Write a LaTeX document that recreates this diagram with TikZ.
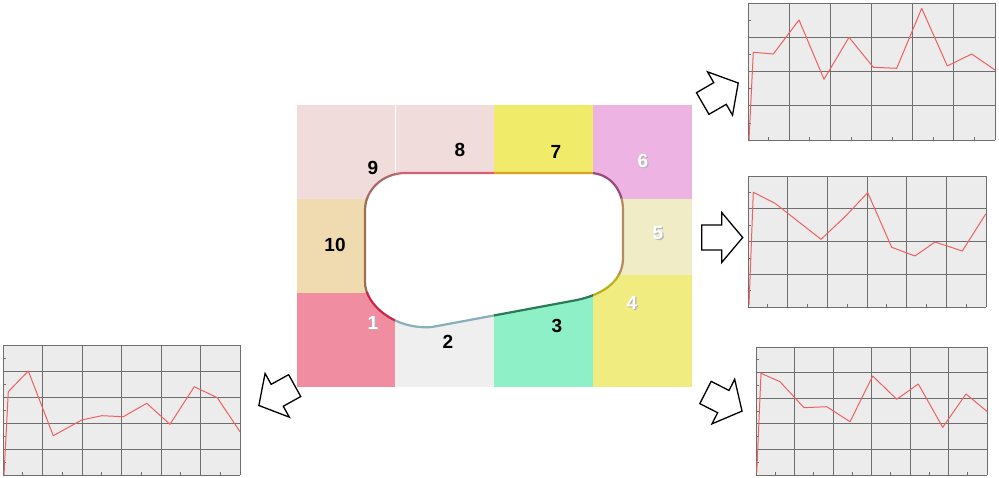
\documentclass[tikz,border=0pt]{standalone}
\usepackage{fontspec}
\setmainfont{Liberation Sans}
\definecolor{cA}{HTML}{F1DCDC}
\definecolor{cSeven}{HTML}{F0EC6A}
\definecolor{cSix}{HTML}{EDB3E3}
\definecolor{cTen}{HTML}{F0DAB0}
\definecolor{cFive}{HTML}{F0ECC6}
\definecolor{cFour}{HTML}{F0EC80}
\definecolor{cOne}{HTML}{F08DA0}
\definecolor{cTwo}{HTML}{EFEFEF}
\definecolor{cThree}{HTML}{8EF0C6}
\definecolor{chartbg}{HTML}{ECECEC}
\definecolor{gridc}{HTML}{6E6E6E}
\definecolor{redc}{HTML}{F06060}
\definecolor{rNine}{HTML}{A86A6A}
\definecolor{rEight}{HTML}{D46070}
\definecolor{rSeven}{HTML}{E0A020}
\definecolor{rSix}{HTML}{9A4A7A}
\definecolor{rTen}{HTML}{9A7050}
\definecolor{rFive}{HTML}{B88A60}
\definecolor{rFour}{HTML}{B8B020}
\definecolor{rOne}{HTML}{C82848}
\definecolor{rTwo}{HTML}{88B0BA}
\definecolor{rThree}{HTML}{2A7A55}
\tikzset{
  gridline/.style={draw=gridc,line width=0.9pt},
  ticks/.style={draw=gridc,line width=0.7pt},
  redline/.style={draw=redc,line width=1pt,line join=round},
  blockarrow/.style={draw=black,fill=white,line width=1.3pt,line join=miter},
  darklabel/.style={font=\bfseries\fontsize{19}{20}\selectfont,text=black},
  whitelabel/.style={font=\bfseries\fontsize{19}{20}\selectfont,text=white},
  shadowlabel/.style={font=\bfseries\fontsize{19}{20}\selectfont,text=black!30},
  rim/.style={line width=2.2pt}
}
\newcommand\mychart[7]{%
  \fill[chartbg] (#1,#2) rectangle (#3,#4);
  \foreach \i in {0,...,#5}{\draw[gridline] ({#1+(#3-#1)*\i/#5},#2) -- ({#1+(#3-#1)*\i/#5},#4);}
  \foreach \i in {0,...,#6}{\draw[gridline] (#1,{#2+(#4-#2)*\i/#6}) -- (#3,{#2+(#4-#2)*\i/#6});}
  \foreach \i in {1,...,#5}{\draw[ticks] ({#1+(#3-#1)*(\i-0.5)/#5},#4) -- ({#1+(#3-#1)*(\i-0.5)/#5},#4-3);}
  \foreach \i in {1,...,#6}{\draw[ticks] (#1,{#2+(#4-#2)*(\i-0.5)/#6}) -- (#1+3,{#2+(#4-#2)*(\i-0.5)/#6});}
  \draw[redline] plot coordinates {#7};
}
\newcommand\holepath{(365,210) -- (365,282) .. controls (365,305) and (395,330) .. (432,327) -- (577,300) .. controls (605,294) and (623,280) .. (623,258) -- (623,210) .. controls (623,188) and (608,173) .. (590,173) -- (405,173) .. controls (383,173) and (365,190) .. (365,210) -- cycle}
\newcommand\rimcell[5]{\begin{scope}\clip (#1,#2) rectangle (#3,#4); \draw[rim,draw=#5] \holepath; \end{scope}}
\begin{document}
\begin{tikzpicture}[x=1pt,y=-1pt]
\useasboundingbox (0,0) rectangle (999,478);
\fill[white] (0,0) rectangle (999,478);
% cells
\fill[cA] (297,105) rectangle (395,199);
\fill[cA] (395,105) rectangle (494,199);
\draw[white,line width=0.8pt] (395,105) -- (395,199);
\fill[cSeven] (494,105) rectangle (593,199);
\fill[cSix] (593,105) rectangle (692,199);
\fill[cTen] (297,199) rectangle (395,293);
\fill[cFive] (593,199) rectangle (692,275);
\fill[cFour] (593,275) rectangle (692,387);
\fill[cOne] (297,293) rectangle (395,387);
\fill[cTwo] (395,293) rectangle (494,387);
\fill[cThree] (494,293) rectangle (593,387);
% hole
\fill[white] \holepath;
\rimcell{297}{105}{395}{199}{rNine}
\rimcell{395}{105}{494}{199}{rEight}
\rimcell{494}{105}{593}{199}{rSeven}
\rimcell{593}{105}{692}{199}{rSix}
\rimcell{297}{199}{395}{293}{rTen}
\rimcell{593}{199}{692}{275}{rFive}
\rimcell{593}{275}{692}{387}{rFour}
\rimcell{297}{293}{395}{387}{rOne}
\rimcell{395}{293}{494}{387}{rTwo}
\rimcell{494}{293}{593}{387}{rThree}
% labels
\node[darklabel] (l9) at (373,168) {9};
\node[darklabel] (l8) at (460,150) {8};
\node[darklabel] (l7) at (556,152) {7};
\node[shadowlabel] at (644.2,162.2) {6};
\node[whitelabel] (l6) at (643,161) {6};
\node[darklabel] (l10) at (335,245) {10};
\node[shadowlabel] at (659.2,234.2) {5};
\node[whitelabel] (l5) at (658,233) {5};
\node[shadowlabel] at (633.2,304.2) {4};
\node[whitelabel] (l4) at (632,303) {4};
\node[shadowlabel] at (374.2,324.2) {1};
\node[whitelabel] (l1) at (373,323) {1};
\node[darklabel] (l2) at (448,342) {2};
\node[darklabel] (l3) at (557,326) {3};
% charts
\mychart{748}{3}{995}{140}{6}{4}{(749,140) (753.3,52.3) (773.3,54) (799,20) (824,79.3) (849,37.3) (873.3,67.3) (896.7,68.3) (921.7,8.3) (947.3,66) (971.7,54) (995,70)}
\mychart{748}{176}{986}{307}{6}{4}{(749,305) (753.3,192.3) (775,203.3) (821,239.3) (845,216.7) (867.7,192.7) (891.7,247.3) (915,256) (935,242) (962.3,251) (985.7,214)}
\mychart{756}{347}{987}{475}{6}{5}{(756.7,473.3) (761,373.3) (780,381.7) (804,407.7) (826.7,406.7) (850,421.7) (872.7,376) (896.7,399.3) (918.3,384) (942.7,427.3) (966,394) (987.3,411.7)}
\mychart{3}{345}{240}{475}{6}{5}{(4,475) (8.3,391.7) (28.3,371) (53.3,435.7) (81.7,420) (101.7,415.7) (123.3,416.7) (146.7,403.3) (170,424.3) (194.3,386.7) (217.3,397.7) (240,431.7)}
% block arrows
\foreach \px/\py/\ang in {702.7/103.5/30, 701.7/237.5/0, 705.5/392.5/-27, 294.7/385.6/-151}{
  \draw[blockarrow,shift={(\px,\py)},rotate=\ang] (0,-12.5) -- (20,-12.5) -- (20,-25) -- (41,0) -- (20,25) -- (20,12.5) -- (0,12.5) -- cycle;
}
\end{tikzpicture}
\end{document}
